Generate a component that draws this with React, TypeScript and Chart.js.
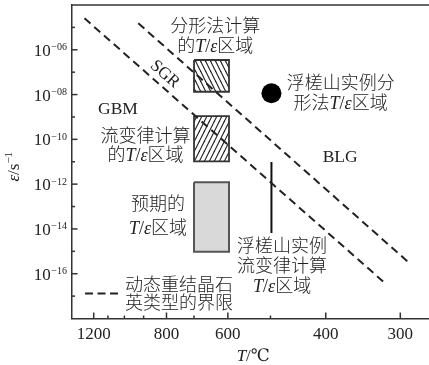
import React, { useEffect, useRef } from 'react';
import { Chart, registerables } from 'chart.js';

Chart.register(...registerables);

// ---------- data (temperatures in °C, strain rates in s^-1) ----------
const xRangeT = [1389, 269];
const yRange = [1e-18, 1e-4];

const xMajorTicksT = [1200, 800, 600, 400, 300];
const xMinorTicksT = [1100, 1000, 900, 700, 500];
const yMajorExp = [-6, -8, -10, -12, -14, -16];
const yMinorExp = [-5, -7, -9, -11, -13, -15, -17];

// dynamic recrystallisation boundaries of quartz
const gbmSgrT = [1273, 320];
const gbmSgrRate = [2.55e-5, 4.4e-17];
const sgrBlgT = [926, 291.5];
const sgrBlgRate = [1.52e-5, 3.43e-16];

// boxes: [T1, T2], [rateTop, rateBottom]
const fractalBoxT = [700, 597];
const fractalBoxRate = [3.5e-7, 1.34e-8];
const flowLawBoxT = [700, 597];
const flowLawBoxRate = [1.1e-9, 1.05e-11];
const expectedBoxT = [700, 597];
const expectedBoxRate = [1.2e-12, 9.5e-16];

// Fuchashan examples
const fuchashanFractalT = [498];
const fuchashanFractalRate = [1.14e-8];
const fuchashanFlowT = [498, 498];
const fuchashanFlowRate = [9.8e-12, 6.6e-15];

// annotations (anchor in data units: °C, log10 rate)
const notes = [
  { T: 635, logR: -5.385, lines: ['分形法计算', '的_T_/_ε_区域'], gap: 20, size: 18 },
  { T: 802, logR: -7.037, lines: ['SGR'], gap: 0, size: 17, angle: 41.5 },
  { T: 1037, logR: -8.6, lines: ['GBM'], gap: 0, size: 17.5 },
  { T: 891, logR: -10.275, lines: ['流变律计算', '的_T_/_ε_区域'], gap: 19, size: 18 },
  { T: 377.3, logR: -7.908, lines: ['浮槎山实例分', '形法_T_/_ε_区域'], gap: 19.5, size: 18 },
  { T: 378, logR: -10.744, lines: ['BLG'], gap: 0, size: 17.5 },
  { T: 835, logR: -13.401, lines: ['预期的', '_T_/_ε_区域'], gap: 24.5, size: 18 },
  { T: 752, logR: -16.885, lines: ['动态重结晶石', '英类型的界限'], gap: 18, size: 18, legendDash: true },
  { T: 476.6, logR: -15.612, lines: ['浮槎山实例', '流变律计算', '_T_/_ε_区域'], gap: 20, size: 18 },
];

const SERIF = "'Liberation Serif', 'DejaVu Serif', serif";
const CJK = "'Noto Sans CJK SC', 'Noto Sans CJK JP', sans-serif";
const INK = '#222';

const invK = (t: number) => 1000 / (t + 273.15);

const pts = (T: number[], R: number[]) => T.map((t, i) => ({ x: invK(t), y: R[i] }));
const rect = (T: number[], R: number[]) => [
  { x: invK(T[0]), y: R[0] },
  { x: invK(T[1]), y: R[0] },
  { x: invK(T[1]), y: R[1] },
  { x: invK(T[0]), y: R[1] },
  { x: invK(T[0]), y: R[0] },
];

function makeHatch(dir: 'fwd' | 'back') {
  const w = 5;
  const h = 10;
  const c = document.createElement('canvas');
  c.width = w;
  c.height = h;
  const g = c.getContext('2d')!;
  g.fillStyle = '#fff';
  g.fillRect(0, 0, w, h);
  g.strokeStyle = '#222';
  g.lineWidth = 1.2;
  for (let k = -1; k <= 1; k++) {
    g.beginPath();
    if (dir === 'fwd') {
      g.moveTo(k * w, h);
      g.lineTo(k * w + w, 0);
    } else {
      g.moveTo(k * w, 0);
      g.lineTo(k * w + w, h);
    }
    g.stroke();
  }
  return g.createPattern(c, 'repeat')!;
}

type Run = { t: string; f: string };
function parseRuns(s: string, size: number): Run[] {
  const runs: Run[] = [];
  let italic = false;
  for (const ch of s) {
    if (ch === '_') {
      italic = !italic;
      continue;
    }
    const cjk = ch.charCodeAt(0) >= 0x2e80;
    const f = cjk ? `300 ${size}px ${CJK}` : `${italic ? 'italic ' : ''}${size}px ${SERIF}`;
    if (runs.length && runs[runs.length - 1].f === f) runs[runs.length - 1].t += ch;
    else runs.push({ t: ch, f });
  }
  return runs;
}

function drawRich(ctx: CanvasRenderingContext2D, s: string, cx: number, cy: number, size: number) {
  const runs = parseRuns(s, size);
  let total = 0;
  const widths = runs.map((r) => {
    ctx.font = r.f;
    const w = ctx.measureText(r.t).width;
    total += w;
    return w;
  });
  let x = cx - total / 2;
  ctx.textAlign = 'left';
  ctx.textBaseline = 'alphabetic';
  runs.forEach((r, i) => {
    ctx.font = r.f;
    ctx.fillText(r.t, x, cy + size * 0.36);
    x += widths[i];
  });
  return total;
}

const decorPlugin = {
  id: 'decor',
  afterDraw(chart: any) {
    const ctx: CanvasRenderingContext2D = chart.ctx;
    const { left, right, top, bottom } = chart.chartArea;
    const xs = chart.scales.x;
    const ys = chart.scales.y;
    ctx.save();
    ctx.strokeStyle = '#333';
    ctx.fillStyle = INK;
    ctx.lineWidth = 1.5;
    ctx.setLineDash([]);

    // top frame line
    ctx.beginPath();
    ctx.moveTo(left, top);
    ctx.lineTo(right, top);
    ctx.stroke();

    // x ticks (inward)
    const xTick = (t: number, len: number) => {
      const px = xs.getPixelForValue(invK(t));
      ctx.beginPath();
      ctx.moveTo(px, bottom);
      ctx.lineTo(px, bottom - len);
      ctx.stroke();
      return px;
    };
    xMinorTicksT.forEach((t) => xTick(t, 3));
    ctx.font = `17px ${SERIF}`;
    ctx.textAlign = 'center';
    ctx.textBaseline = 'alphabetic';
    xMajorTicksT.forEach((t) => {
      const px = xTick(t, 6);
      ctx.fillText(String(t), px, 339);
    });

    // x title
    const tx = (left + right) / 2 + 3;
    const ty = bottom + 36.5;
    drawRich(ctx, '_T_/℃', tx, ty, 17);

    // y ticks (inward)
    const yTick = (e: number, len: number) => {
      const py = ys.getPixelForValue(Math.pow(10, e));
      ctx.beginPath();
      ctx.moveTo(left, py);
      ctx.lineTo(left + len, py);
      ctx.stroke();
      return py;
    };
    yMinorExp.forEach((e) => yTick(e, 3.5));
    yMajorExp.forEach((e) => {
      const py = yTick(e, 6);
      const sup = '−' + String(Math.abs(e)).padStart(2, '0');
      ctx.font = `10px ${SERIF}`;
      const sw = ctx.measureText(sup).width;
      const rx = left - 4.5;
      ctx.textAlign = 'left';
      ctx.textBaseline = 'alphabetic';
      ctx.fillText(sup, rx - sw, py + 0.5);
      ctx.font = `17px ${SERIF}`;
      ctx.textAlign = 'right';
      ctx.fillText('10', rx - sw - 0.5, py + 6);
    });

    // y title (rotated)
    ctx.save();
    ctx.translate(13, (top + bottom) / 2 + 5);
    ctx.rotate(-Math.PI / 2);
    ctx.textAlign = 'left';
    ctx.textBaseline = 'alphabetic';
    ctx.font = `italic 17px ${SERIF}`;
    const w1 = ctx.measureText('ε').width;
    ctx.font = `17px ${SERIF}`;
    const w2 = ctx.measureText('/s').width;
    ctx.font = `11px ${SERIF}`;
    const w3 = ctx.measureText('−1').width;
    let x0 = -(w1 + w2 + w3) / 2;
    ctx.font = `italic 17px ${SERIF}`;
    ctx.fillText('ε', x0, 6);
    x0 += w1;
    ctx.font = `17px ${SERIF}`;
    ctx.fillText('/s', x0, 6);
    x0 += w2;
    ctx.font = `11px ${SERIF}`;
    ctx.fillText('−1', x0, -1);
    ctx.restore();

    // annotations
    notes.forEach((n) => {
      const cx = xs.getPixelForValue(invK(n.T));
      const cy = ys.getPixelForValue(Math.pow(10, n.logR));
      const startY = cy - ((n.lines.length - 1) * n.gap) / 2;
      ctx.fillStyle = INK;
      if (n.angle) {
        ctx.save();
        ctx.translate(cx, cy);
        ctx.rotate((n.angle * Math.PI) / 180);
        drawRich(ctx, n.lines[0], 0, 0, n.size);
        ctx.restore();
        return;
      }
      let maxW = 0;
      n.lines.forEach((ln, i) => {
        const w = drawRich(ctx, ln, cx, startY + i * n.gap, n.size);
        maxW = Math.max(maxW, w);
      });
      if (n.legendDash) {
        const lx = cx - maxW / 2;
        ctx.strokeStyle = '#222';
        ctx.lineWidth = 2;
        ctx.setLineDash([8, 4.5]);
        ctx.beginPath();
        ctx.moveTo(lx - 40, cy);
        ctx.lineTo(lx - 7, cy);
        ctx.stroke();
        ctx.setLineDash([]);
      }
    });
    ctx.restore();
  },
};

export default function App() {
  const ref = useRef<HTMLCanvasElement>(null);

  useEffect(() => {
    const canvas = ref.current!;
    const hatchBack = makeHatch('back');
    const hatchFwd = makeHatch('fwd');

    const lineBase = { pointRadius: 0, tension: 0, fill: false };

    const chart = new Chart(canvas, {
      type: 'line',
      data: {
        datasets: [
          {
            ...lineBase,
            data: pts(gbmSgrT, gbmSgrRate),
            borderColor: '#222',
            borderWidth: 2,
            borderDash: [8, 5],
          },
          {
            ...lineBase,
            data: pts(sgrBlgT, sgrBlgRate),
            borderColor: '#222',
            borderWidth: 2,
            borderDash: [8, 5],
          },
          {
            data: pts(fuchashanFractalT, fuchashanFractalRate),
            showLine: false,
            pointRadius: 10,
            pointBackgroundColor: '#000',
            pointBorderColor: '#000',
            pointBorderWidth: 0,
          },
          {
            ...lineBase,
            data: pts(fuchashanFlowT, fuchashanFlowRate),
            borderColor: '#111',
            borderWidth: 2,
          },
          {
            ...lineBase,
            data: rect(fractalBoxT, fractalBoxRate),
            borderColor: '#333',
            borderWidth: 1.8,
            fill: 'shape',
            backgroundColor: hatchBack,
          },
          {
            ...lineBase,
            data: rect(flowLawBoxT, flowLawBoxRate),
            borderColor: '#333',
            borderWidth: 1.8,
            fill: 'shape',
            backgroundColor: hatchFwd,
          },
          {
            ...lineBase,
            data: rect(expectedBoxT, expectedBoxRate),
            borderColor: '#555',
            borderWidth: 2,
            fill: 'shape',
            backgroundColor: '#d9d9d9',
          },
        ] as any,
      },
      options: {
        animation: false,
        responsive: false,
        events: [],
        layout: { autoPadding: false, padding: { top: 5, right: 0, left: 0, bottom: 0 } },
        plugins: { legend: { display: false }, tooltip: { enabled: false } },
        scales: {
          x: {
            type: 'linear',
            min: invK(xRangeT[0]),
            max: invK(xRangeT[1]),
            grid: { display: false, drawTicks: false },
            ticks: { display: false },
            border: { display: true, color: '#333', width: 1.5 },
            afterFit: (s: any) => {
              s.height = 46.5;
              s.paddingLeft = 0;
              s.paddingRight = 0;
            },
          },
          y: {
            type: 'logarithmic',
            min: yRange[0],
            max: yRange[1],
            grid: { display: false, drawTicks: false },
            ticks: { display: false },
            border: { display: true, color: '#333', width: 1.5 },
            afterFit: (s: any) => {
              s.width = 71.5;
              s.paddingTop = 0;
              s.paddingBottom = 0;
            },
          },
        },
      } as any,
      plugins: [decorPlugin],
    });
    return () => chart.destroy();
  }, []);

  return (
    <canvas
      ref={ref}
      width={429}
      height={365}
      style={{ position: 'fixed', left: 0, top: 0, width: 429, height: 365, background: '#fff' }}
    />
  );
}
